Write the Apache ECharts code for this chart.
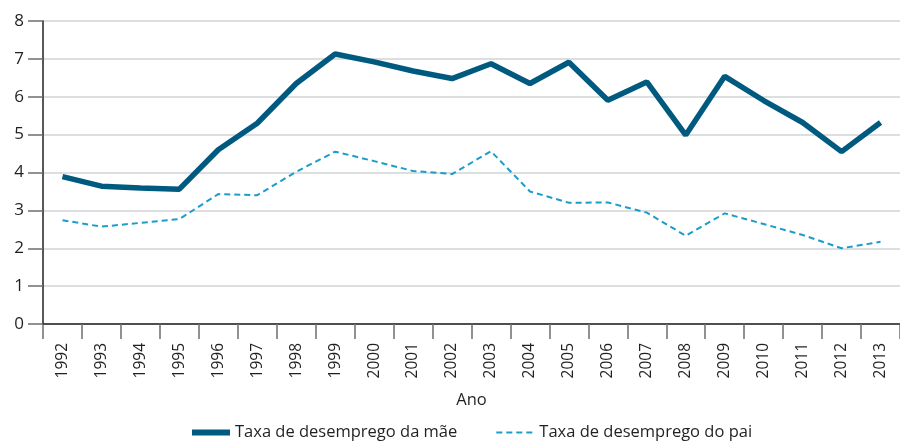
<!DOCTYPE html>
<html>
<head>
<meta charset="utf-8">
<script src="https://cdn.jsdelivr.net/npm/echarts@6/dist/echarts.min.js"></script>
<style>
  html, body { margin: 0; padding: 0; background: #fff; }
  #chart { width: 900px; height: 447px; }
</style>
</head>
<body>
<div id="chart"></div>
<script>
const years = ['1992', '1993', '1994', '1995', '1996', '1997', '1998', '1999', '2000', '2001', '2002',
  '2003', '2004', '2005', '2006', '2007', '2008', '2009', '2010', '2011', '2012', '2013']
const maeValues = [3.89, 3.64, 3.59, 3.56, 4.6, 5.3, 6.35, 7.13, 6.92, 6.68, 6.48,
  6.87, 6.35, 6.91, 5.91, 6.39, 4.99, 6.54, 5.9, 5.32, 4.55, 5.32]
const paiValues = [2.74, 2.57, 2.67, 2.77, 3.43, 3.4, 4.02, 4.55, 4.3, 4.04, 3.96,
  4.56, 3.5, 3.2, 3.21, 2.94, 2.33, 2.92, 2.64, 2.35, 2.0, 2.17]
const seriesNames = ['Taxa de desemprego da mãe', 'Taxa de desemprego do pai']

const font = 'Open Sans'
const chart = echarts.init(document.getElementById('chart'))

const option = {
  animation: false,
  textStyle: { fontFamily: font },
  grid: {
    left: 43,
    top: 21,
    right: -7,
    bottom: 123
  },
  legend: {
    bottom: 1,
    left: 184,
    itemWidth: 38,
    itemHeight: 14,
    itemGap: 38,
    itemStyle: { opacity: 0 },
    textStyle: { fontFamily: font, fontSize: 16.5, color: '#231f20' },
    data: [
      { name: seriesNames[0], lineStyle: { width: 6 } },
      { name: seriesNames[1], lineStyle: { width: 2 } }
    ]
  },
  xAxis: {
    type: 'category',
    boundaryGap: true,
    data: years,
    name: 'Ano',
    nameLocation: 'middle',
    nameGap: 68,
    nameTextStyle: { fontFamily: font, fontSize: 16.5, color: '#231f20' },
    axisLine: { lineStyle: { color: '#231f20', width: 1.5 } },
    axisTick: { show: true, length: 15, lineStyle: { color: '#6d6e71', width: 1.5 } },
    axisLabel: {
      rotate: 90,
      interval: 0,
      margin: 19,
      fontSize: 15.5,
      color: '#231f20'
    },
    splitLine: { show: false }
  },
  yAxis: {
    type: 'value',
    min: 0,
    max: 8,
    interval: 1,
    axisLine: { show: true, lineStyle: { color: '#231f20', width: 1.5 } },
    axisTick: { show: true, length: 15, lineStyle: { color: '#6d6e71', width: 1.5 } },
    axisLabel: { margin: 19, fontSize: 17, color: '#231f20' },
    splitLine: { lineStyle: { color: '#d1d3d4', width: 1.5 } }
  },
  series: [
    {
      name: seriesNames[0],
      type: 'line',
      data: maeValues,
      symbol: 'none',
      lineStyle: { color: '#005a80', width: 5.5 },
      itemStyle: { color: '#005a80' },
      z: 3
    },
    {
      name: seriesNames[1],
      type: 'line',
      data: paiValues,
      symbol: 'none',
      lineStyle: { color: '#1a9dcb', width: 2, type: [6, 4] },
      itemStyle: { color: '#1a9dcb' },
      z: 2
    }
  ]
}

chart.setOption(option)
</script>
</body>
</html>
